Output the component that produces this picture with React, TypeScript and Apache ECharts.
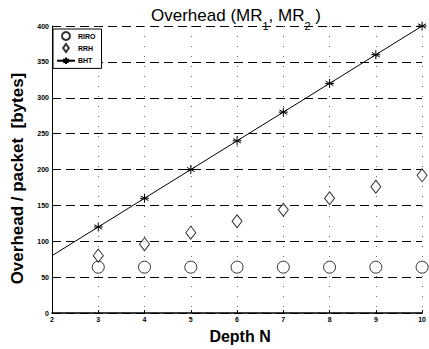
import React, { useEffect, useRef } from "react";
import * as echarts from "echarts";

const depths = [3, 4, 5, 6, 7, 8, 9, 10];
const riro = [64, 64, 64, 64, 64, 64, 64, 64];
const rrh = [80, 96, 112, 128, 144, 160, 176, 192];
const bhtDepths = [2, 3, 4, 5, 6, 7, 8, 9, 10];
const bht = [80, 120, 160, 200, 240, 280, 320, 360, 400];
const seriesNames = ["RIRO", "RRH", "BHT"];

const STAR = "path://M0,-10L0,10M-8.66,-5L8.66,5M-8.66,5L8.66,-5M-10,0L10,0";
const DIAMOND = "path://M0,-7L5,0L0,7L-5,0Z";
const FONT = "'Liberation Sans', Arial, Helvetica, sans-serif";

export default function App() {
  const ref = useRef<HTMLDivElement>(null);
  useEffect(() => {
    const chart = echarts.init(ref.current!, null, { renderer: "svg" });
    chart.setOption({
      animation: false,
      backgroundColor: "#fff",
      textStyle: { fontFamily: FONT },
      title: {
        text: "{m|Overhead (MR}{s|1}{m|, MR}{s|2}{m| )}",
        left: 231,
        top: 2,
        textAlign: "center",
        textStyle: {
          fontWeight: "normal",
          rich: {
            m: { fontSize: 17, fontWeight: "normal", fontFamily: FONT, color: "#000", lineHeight: 22, verticalAlign: "top" },
            s: { fontSize: 11, fontWeight: "normal", fontFamily: FONT, color: "#000", lineHeight: 12, verticalAlign: "top", padding: [13, 0, 0, 0] },
          },
        },
      },
      legend: {
        data: [
          { name: seriesNames[0] },
          { name: seriesNames[1], icon: DIAMOND },
          { name: seriesNames[2] },
        ],
        orient: "vertical",
        left: 53,
        top: 29,
        itemWidth: 18,
        itemHeight: 8,
        itemGap: 2,
        padding: [2, 6, 2, 3],
        borderColor: "#000",
        borderWidth: 1,
        backgroundColor: "#fff",
        textStyle: { fontSize: 7, fontWeight: "bold", color: "#000", fontFamily: FONT, padding: [0, 0, 0, -2] },
      },
      grid: { left: 52, right: 4, top: 26, bottom: 31, containLabel: false },
      xAxis: {
        type: "value",
        min: 2,
        max: 10,
        interval: 1,
        name: "Depth N",
        nameLocation: "middle",
        nameGap: 10,
        nameTextStyle: { fontSize: 16, fontWeight: "bold", color: "#000", fontFamily: FONT, verticalAlign: "top", padding: [0, 0, 0, 6] },
        axisLine: { lineStyle: { color: "#000", width: 1.5 } },
        axisTick: { inside: true, length: 3, lineStyle: { color: "#000" } },
        axisLabel: { fontSize: 7, fontWeight: "bold", color: "#000", margin: 3, fontFamily: FONT },
        splitLine: { show: true, lineStyle: { color: "#666", type: [1, 9], width: 1 } },
      },
      yAxis: {
        type: "value",
        min: 0,
        max: 400,
        interval: 50,
        name: "Overhead / packet  [bytes]",
        nameLocation: "middle",
        nameGap: 26,
        nameTextStyle: { fontSize: 17, fontWeight: "bold", color: "#000", fontFamily: FONT, padding: [0, 18, 0, 0] },
        axisLine: { show: true, lineStyle: { color: "#000", width: 1 } },
        axisTick: { show: true, inside: true, length: 3, lineStyle: { color: "#000" } },
        axisLabel: { fontSize: 7, fontWeight: "bold", color: "#000", margin: 3, fontFamily: FONT },
        splitLine: { show: true, lineStyle: { color: "#000", type: [9, 5], width: 1 } },
      },
      series: [
        {
          name: seriesNames[0],
          type: "scatter",
          symbol: "circle",
          symbolSize: 12,
          itemStyle: { color: "#fff", borderColor: "#000", borderWidth: 1 },
          data: depths.map((d, i) => [d, riro[i]]),
        },
        {
          name: seriesNames[1],
          type: "scatter",
          symbol: "diamond",
          symbolSize: [10, 13],
          itemStyle: { color: "#fff", borderColor: "#000", borderWidth: 1 },
          data: depths.map((d, i) => [d, rrh[i]]),
        },
        {
          name: seriesNames[2],
          type: "line",
          symbol: STAR,
          symbolSize: 9,
          showAllSymbol: true,
          lineStyle: { color: "#000", width: 1 },
          itemStyle: { color: "none", borderColor: "#000", borderWidth: 1 },
          data: bhtDepths.map((d, i) =>
            i === 0 ? { value: [d, bht[i]], symbol: "none" } : [d, bht[i]]
          ),
        },
      ],
    });
    return () => chart.dispose();
  }, []);
  return <div ref={ref} style={{ width: 429, height: 349, position: "absolute", left: 0, top: 0 }} />;
}
